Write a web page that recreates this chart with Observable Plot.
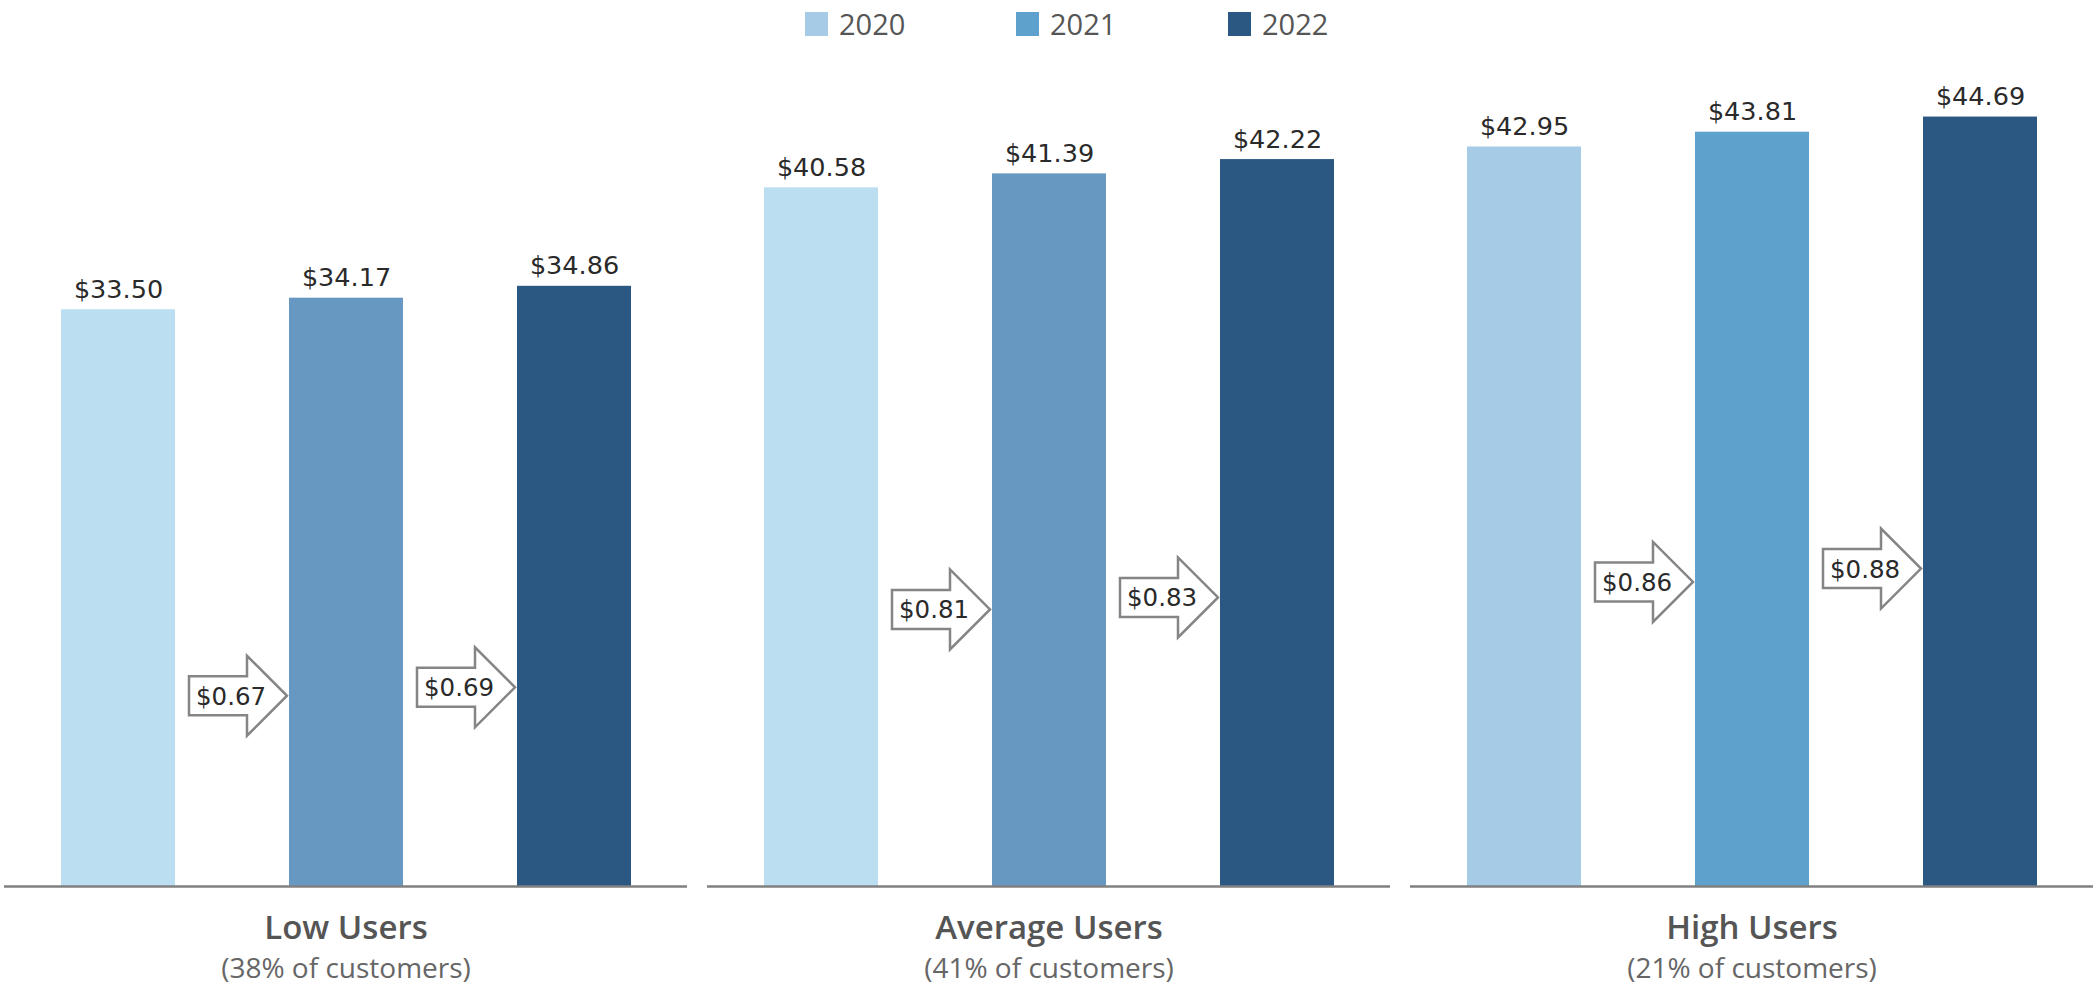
<!DOCTYPE html>
<html>
<head>
<meta charset="utf-8">
<script src="https://cdn.jsdelivr.net/npm/d3@7"></script>
<script src="https://cdn.jsdelivr.net/npm/@observablehq/plot@0.6"></script>
<style>
  html, body { margin: 0; padding: 0; background: #fff; }
  #legend { position: relative; height: 50px; width: 2096px; font-family: "Open Sans", sans-serif; }
  .item { position: absolute; top: 0; height: 47px; display: flex; align-items: center; }
  .sw { width: 23px; height: 24px; margin-right: 11px; }
  .lab { font-size: 29px; color: #555; }
</style>
</head>
<body>
<div id="legend"></div>
<div id="chart"></div>
<script>
// ---- data ----
const segments = ["Low Users", "Average Users", "High Users"];
const shares = ["38%", "41%", "21%"];
const years = ["2020", "2021", "2022"];
const lowUsers = [33.50, 34.17, 34.86];
const averageUsers = [40.58, 41.39, 42.22];
const highUsers = [42.95, 43.81, 44.69];
const lowChange = [0.67, 0.69];
const averageChange = [0.81, 0.83];
const highChange = [0.86, 0.88];
// vertical position (in $ units) of each change arrow, as placed in the reference
const lowArrowAt = [11.05, 11.54];
const averageArrowAt = [16.06, 16.76];
const highArrowAt = [17.66, 18.44];

// ---- styles ----
const legendColors = ["#A6CBE7", "#5EA1CC", "#2B5783"];
const mutedColors = ["#BBDFF1", "#6798C1", "#2B5783"];
const legendLeft = [805, 1016, 1228];

const valuesBySeg = [lowUsers, averageUsers, highUsers];
const changeBySeg = [lowChange, averageChange, highChange];
const arrowBySeg = [lowArrowAt, averageArrowAt, highArrowAt];

const bars = segments.flatMap((seg, s) =>
  years.map((year, k) => ({seg, year, value: valuesBySeg[s][k],
    color: (seg === "High Users" ? legendColors : mutedColors)[k]})));
const arrows = segments.flatMap((seg, s) =>
  changeBySeg[s].map((change, k) => ({seg, to: years[k + 1], change, pos: arrowBySeg[s][k]})));
const labels = segments.map((seg, s) => ({seg, share: `(${shares[s]} of customers)`}));

// legend
const legend = document.getElementById("legend");
years.forEach((y, i) => {
  const it = document.createElement("div");
  it.className = "item";
  it.style.left = legendLeft[i] + "px";
  it.innerHTML = `<div class="sw" style="background:${legendColors[i]}"></div><span class="lab">${y}</span>`;
  legend.appendChild(it);
});

const fmt = v => "$" + v.toFixed(2);

const chart = Plot.plot({
  width: 2096,
  height: 938,
  marginLeft: 4,
  marginRight: 3,
  marginTop: 44,
  marginBottom: 102,
  style: {fontFamily: "DejaVu Sans", background: "white", color: "#333"},
  fx: {domain: segments, paddingInner: 0.0285, paddingOuter: 0, axis: null, label: null},
  x: {domain: years, paddingInner: 0.5, paddingOuter: 0.245, axis: null, label: null},
  y: {domain: [0, 46], axis: null, label: null},
  color: {type: "identity"},
  marks: [
    Plot.barY(bars, {fx: "seg", x: "year", y: "value", fill: "color"}),
    Plot.ruleY(segments.map(seg => ({seg, v: 0})), {fx: "seg", y: "v", stroke: "#808080", strokeWidth: 2.5}),
    Plot.text(bars, {fx: "seg", x: "year", y: "value", text: d => fmt(d.value), dy: -12,
      lineAnchor: "bottom", fontSize: 25.5, fill: "#2a2a2a", fontFamily: "DejaVu Sans"}),
    Plot.dot(arrows, {
      fx: "seg", x: "to", y: "pos",
      render(index, scales, values) {
        const g = d3.create("svg:g");
        for (const i of index) {
          const tip = values.x[i] - 2;
          const cy = values.y[i];
          const L = 98, head = 40, bh = 19.5, hh = 40;
          const pts = [
            [tip - L, cy - bh], [tip - head, cy - bh], [tip - head, cy - hh], [tip, cy],
            [tip - head, cy + hh], [tip - head, cy + bh], [tip - L, cy + bh]
          ];
          g.append("path")
            .attr("d", "M" + pts.map(p => p.join(",")).join("L") + "Z")
            .attr("fill", "white").attr("stroke", "#858585").attr("stroke-width", 2.5)
            .attr("stroke-linejoin", "miter");
          g.append("text")
            .attr("x", tip - L + 7).attr("y", cy + 9)
            .attr("text-anchor", "start")
            .style("font-family", "DejaVu Sans").style("font-size", "24.5px")
            .attr("fill", "#2a2a2a")
            .text(fmt(arrows[i].change));
        }
        return g.node();
      }
    }),
    Plot.text(labels, {fx: "seg", frameAnchor: "bottom", dy: 52, lineAnchor: "bottom",
      text: "seg", fontFamily: "Open Sans", fontSize: 33, fontWeight: 600, fill: "#555"}),
    Plot.text(labels, {fx: "seg", frameAnchor: "bottom", dy: 91, lineAnchor: "bottom",
      text: "share", fontFamily: "Open Sans", fontSize: 28, fill: "#666"})
  ]
});
document.getElementById("chart").appendChild(chart);
</script>
</body>
</html>
